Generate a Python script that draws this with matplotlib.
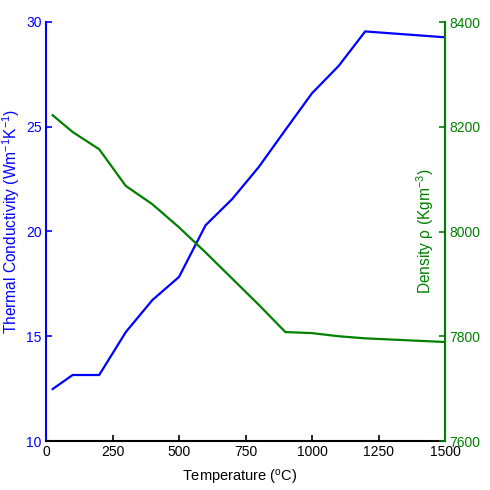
import matplotlib
matplotlib.use("Agg")
import matplotlib.pyplot as plt

plt.rcParams['font.family'] = ['Liberation Sans', 'DejaVu Sans']
plt.rcParams['mathtext.fontset'] = 'custom'
plt.rcParams['mathtext.rm'] = 'Liberation Sans'
plt.rcParams['mathtext.it'] = 'Liberation Sans'

temperature = [25, 100, 200, 300, 400, 500, 600, 700, 800, 900, 1000, 1100, 1200, 1500]
conductivity = [12.48, 13.15, 13.15, 15.2, 16.73, 17.83, 20.3, 21.55, 23.08, 24.85, 26.6, 27.9, 29.55, 29.27]
density = [8222, 8190, 8157, 8087, 8052, 8008, 7960, 7910, 7860, 7808, 7806, 7800, 7796, 7789]

x_ticks = [0, 250, 500, 750, 1000, 1250, 1500]
left_ticks = [10, 15, 20, 25, 30]
right_ticks = [7600, 7800, 8000, 8200, 8400]

blue = '#0000ff'
green = '#008000'

fig = plt.figure(figsize=(4.9, 4.9), dpi=100)
ax = fig.add_axes([46/490, 49/490, 399/490, 419/490])
ax2 = ax.twinx()

ax.plot(temperature, conductivity, color=blue, lw=1.6)
ax2.plot(temperature, density, color=green, lw=1.6)

ax.set_xlim(0, 1500)
ax.set_ylim(10, 30)
ax2.set_ylim(7600, 8400)
ax.set_xticks(x_ticks)
ax.set_yticks(left_ticks)
ax2.set_yticks(right_ticks)

for a in (ax, ax2):
    a.spines['top'].set_visible(False)
ax.spines['right'].set_visible(False)
ax2.spines['left'].set_visible(False)
ax2.spines['bottom'].set_visible(False)
ax.spines['left'].set_color(blue)
ax.spines['left'].set_linewidth(1.5)
ax2.spines['right'].set_color(green)
ax2.spines['right'].set_linewidth(1.5)
ax.spines['bottom'].set_color('black')
ax.spines['bottom'].set_linewidth(1.5)

ax.tick_params(axis='x', direction='in', length=4, width=1.2, colors='black', labelsize=10, pad=3)
ax.tick_params(axis='y', direction='in', length=4, width=1.2, colors=blue, labelsize=10, pad=3)
ax2.tick_params(axis='y', direction='in', length=4, width=1.2, colors=green, labelsize=10, pad=3)

ax.set_xlabel('Temperature ($^{\\mathrm{o}}$C)', fontsize=10.5, color='black', va='center')
ax.xaxis.set_label_coords(0.486, -0.086)
ax.set_ylabel('Thermal Conductivity (Wm$^{-1}$K$^{-1}$)', fontsize=11.2, color=blue, va='center')
ax.yaxis.set_label_coords(-0.088, 0.523)
ax2.set_ylabel('Density \u03c1 (Kgm$^{-3}$)', fontsize=11.2, color=green, rotation=90, va='center')
ax2.yaxis.set_label_coords(0.95, 0.5)

fig.savefig('out.png', dpi=100)
